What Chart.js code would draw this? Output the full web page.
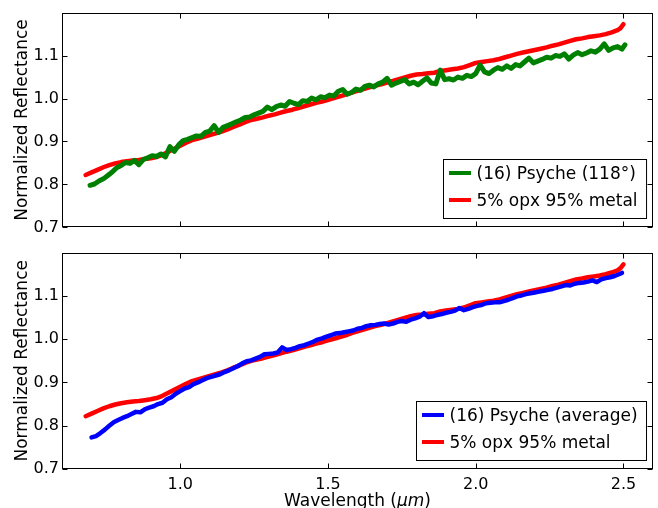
<!DOCTYPE html>
<html>
<head>
<meta charset="utf-8">
<script src="https://cdn.jsdelivr.net/npm/chart.js@4.4.1/dist/chart.umd.min.js"></script>
<style>
  html, body { margin: 0; padding: 0; background: #fff; }
  #wrap { position: relative; width: 658px; height: 508px; overflow: hidden; }
  canvas { position: absolute; left: 0; }
  #c1 { top: 0; }
  #c2 { top: 240px; }
</style>
</head>
<body>
<div id="wrap">
  <canvas id="c1" width="658" height="240"></canvas>
  <canvas id="c2" width="658" height="268"></canvas>
</div>
<script>
// ---------- data ----------
const xTicks = [1.0, 1.5, 2.0, 2.5];
const yTicks = [0.7, 0.8, 0.9, 1.0, 1.1];
const xTitle = ['Wavelength (', 'μm', ')'];
const yTitle = 'Normalized Reflectance';

const psyche118Label = '(16) Psyche (118°)';
const psycheAvgLabel = '(16) Psyche (average)';
const modelLabel = '5% opx 95% metal';

const psyche118Wl = [0.695,0.710,0.725,0.740,0.755,0.770,0.785,0.800,0.815,0.830,0.845,0.860,0.875,0.890,0.905,0.920,0.935,0.950,0.965,0.980,0.995,1.010,1.025,1.040,1.055,1.070,1.085,1.100,1.115,1.130,1.145,1.160,1.175,1.190,1.205,1.220,1.235,1.250,1.265,1.280,1.295,1.310,1.325,1.340,1.355,1.370,1.385,1.400,1.415,1.430,1.445,1.460,1.475,1.490,1.505,1.520,1.535,1.550,1.565,1.580,1.595,1.610,1.625,1.640,1.655,1.670,1.685,1.700,1.715,1.730,1.745,1.760,1.775,1.790,1.805,1.820,1.835,1.850,1.865,1.880,1.895,1.910,1.925,1.940,1.955,1.970,1.985,2.000,2.015,2.030,2.045,2.060,2.075,2.090,2.105,2.120,2.135,2.150,2.165,2.180,2.195,2.210,2.225,2.240,2.255,2.270,2.285,2.300,2.315,2.330,2.345,2.360,2.375,2.390,2.405,2.420,2.435,2.450,2.465,2.480,2.495,2.505];
const psyche118Refl = [0.798,0.801,0.808,0.813,0.821,0.829,0.839,0.844,0.851,0.849,0.856,0.846,0.858,0.862,0.867,0.865,0.871,0.864,0.888,0.877,0.892,0.902,0.905,0.909,0.913,0.912,0.921,0.924,0.937,0.921,0.933,0.937,0.941,0.946,0.950,0.956,0.957,0.962,0.966,0.970,0.980,0.974,0.981,0.985,0.982,0.993,0.989,0.986,0.995,0.993,1.001,0.997,1.004,1.002,1.008,1.006,1.017,1.021,1.010,1.014,1.022,1.019,1.028,1.031,1.027,1.034,1.038,1.047,1.031,1.036,1.040,1.044,1.034,1.038,1.032,1.040,1.048,1.036,1.034,1.066,1.044,1.046,1.043,1.050,1.047,1.054,1.051,1.058,1.078,1.062,1.058,1.066,1.072,1.068,1.076,1.070,1.079,1.076,1.085,1.094,1.083,1.087,1.091,1.096,1.094,1.100,1.098,1.104,1.092,1.101,1.107,1.102,1.106,1.111,1.108,1.115,1.127,1.112,1.118,1.121,1.115,1.125];

const psycheAvgWl = [0.700,0.715,0.730,0.745,0.760,0.775,0.790,0.805,0.820,0.835,0.850,0.865,0.880,0.895,0.910,0.925,0.940,0.955,0.970,0.985,1.000,1.015,1.030,1.045,1.060,1.075,1.090,1.105,1.120,1.135,1.150,1.165,1.180,1.195,1.210,1.225,1.240,1.255,1.270,1.285,1.300,1.315,1.330,1.345,1.360,1.375,1.390,1.405,1.420,1.435,1.450,1.465,1.480,1.495,1.510,1.525,1.540,1.555,1.570,1.585,1.600,1.615,1.630,1.645,1.660,1.675,1.690,1.705,1.720,1.735,1.750,1.765,1.780,1.795,1.810,1.825,1.840,1.855,1.870,1.885,1.900,1.915,1.930,1.945,1.960,1.975,1.990,2.005,2.020,2.035,2.050,2.065,2.080,2.095,2.110,2.125,2.140,2.155,2.170,2.185,2.200,2.215,2.230,2.245,2.260,2.275,2.290,2.305,2.320,2.335,2.350,2.365,2.380,2.395,2.410,2.425,2.440,2.455,2.470,2.485,2.495];
const psycheAvgRefl = [0.773,0.776,0.783,0.791,0.800,0.808,0.813,0.818,0.822,0.827,0.832,0.831,0.838,0.842,0.845,0.850,0.853,0.861,0.866,0.874,0.880,0.886,0.889,0.896,0.900,0.905,0.910,0.913,0.916,0.919,0.924,0.928,0.933,0.938,0.944,0.949,0.951,0.955,0.959,0.965,0.966,0.967,0.969,0.981,0.975,0.977,0.980,0.984,0.986,0.990,0.994,0.999,1.002,1.006,1.009,1.013,1.014,1.016,1.018,1.020,1.024,1.026,1.030,1.032,1.033,1.035,1.036,1.034,1.036,1.040,1.042,1.040,1.045,1.048,1.052,1.060,1.051,1.053,1.056,1.058,1.061,1.063,1.066,1.072,1.067,1.070,1.074,1.077,1.079,1.083,1.084,1.085,1.085,1.088,1.091,1.095,1.099,1.101,1.104,1.106,1.108,1.110,1.112,1.114,1.116,1.119,1.122,1.125,1.124,1.128,1.130,1.131,1.133,1.136,1.132,1.138,1.141,1.143,1.146,1.150,1.153];

const modelWl = [0.680,0.700,0.720,0.740,0.760,0.780,0.800,0.820,0.840,0.860,0.880,0.900,0.920,0.940,0.960,0.980,1.000,1.020,1.040,1.060,1.080,1.100,1.120,1.140,1.160,1.180,1.200,1.220,1.240,1.260,1.280,1.300,1.320,1.340,1.360,1.380,1.400,1.420,1.440,1.460,1.480,1.500,1.520,1.540,1.560,1.580,1.600,1.620,1.640,1.660,1.680,1.700,1.720,1.740,1.760,1.780,1.800,1.820,1.840,1.860,1.880,1.900,1.920,1.940,1.960,1.980,2.000,2.020,2.040,2.060,2.080,2.100,2.120,2.140,2.160,2.180,2.200,2.220,2.240,2.260,2.280,2.300,2.320,2.340,2.360,2.380,2.400,2.420,2.440,2.460,2.480,2.490,2.500];
const modelRefl = [0.822,0.828,0.834,0.840,0.845,0.849,0.852,0.854,0.856,0.857,0.859,0.861,0.864,0.869,0.876,0.883,0.890,0.897,0.903,0.907,0.911,0.915,0.919,0.923,0.928,0.934,0.939,0.945,0.950,0.953,0.956,0.960,0.963,0.967,0.971,0.974,0.978,0.982,0.986,0.990,0.993,0.997,1.001,1.005,1.009,1.014,1.018,1.022,1.026,1.030,1.033,1.037,1.041,1.045,1.049,1.053,1.056,1.057,1.059,1.060,1.064,1.066,1.068,1.070,1.073,1.078,1.083,1.085,1.087,1.089,1.092,1.096,1.100,1.104,1.107,1.110,1.113,1.116,1.119,1.123,1.126,1.130,1.134,1.138,1.140,1.143,1.145,1.147,1.150,1.154,1.159,1.164,1.173];

// ---------- helpers ----------
const FONT = "'DejaVu Sans', sans-serif";
Chart.defaults.font.family = FONT;
Chart.defaults.color = '#000';

function pts(xs, ys) { return xs.map((x, i) => ({ x: x, y: ys[i] })); }

const decorPlugin = {
  id: 'decor',
  afterDraw(chart, args, opts) {
    const ctx = chart.ctx, a = chart.chartArea, xs = chart.scales.x, ys = chart.scales.y;
    ctx.save();
    const L = Math.round(a.left) + 0.5, R = Math.round(a.right) - 0.5;
    const T = Math.round(a.top) + 0.5, B = Math.round(a.bottom) - 0.5;
    ctx.strokeStyle = '#000';
    ctx.lineWidth = 1;
    ctx.strokeRect(L, T, R - L, B - T);
    const tl = 5;
    ctx.beginPath();
    xs.ticks.forEach(t => {
      const p = Math.round(xs.getPixelForValue(t.value)) + 0.5;
      ctx.moveTo(p, B); ctx.lineTo(p, B - tl);
      ctx.moveTo(p, T); ctx.lineTo(p, T + tl);
    });
    ys.ticks.forEach(t => {
      const p = Math.round(ys.getPixelForValue(t.value)) + 0.5;
      ctx.moveTo(L, p); ctx.lineTo(L + tl, p);
      ctx.moveTo(R, p); ctx.lineTo(R - tl, p);
    });
    ctx.stroke();

    // y title
    ctx.fillStyle = '#000';
    ctx.font = '17px ' + FONT;
    ctx.save();
    ctx.translate(27, (a.top + a.bottom) / 2);
    ctx.rotate(-Math.PI / 2);
    ctx.textAlign = 'center';
    ctx.textBaseline = 'alphabetic';
    ctx.fillText(yTitle, 0, 0);
    ctx.restore();

    // x title
    if (opts.xTitle) {
      const fN = '17px ' + FONT, fI = 'italic 17px ' + FONT;
      ctx.font = fN; const w0 = ctx.measureText(xTitle[0]).width, w2 = ctx.measureText(xTitle[2]).width;
      ctx.font = fI; const w1 = ctx.measureText(xTitle[1]).width;
      let x0 = (a.left + a.right) / 2 - (w0 + w1 + w2) / 2;
      const by = opts.xTitleY;
      ctx.textAlign = 'left'; ctx.textBaseline = 'alphabetic';
      ctx.font = fN; ctx.fillText(xTitle[0], x0, by);
      ctx.font = fI; ctx.fillText(xTitle[1], x0 + w0, by);
      ctx.font = fN; ctx.fillText(xTitle[2], x0 + w0 + w1, by);
    }

    // legend
    const items = chart.data.datasets;
    ctx.font = '17px ' + FONT;
    let maxW = 0;
    items.forEach(d => { maxW = Math.max(maxW, ctx.measureText(d.label).width); });
    const padL = 5.5, lineLen = 22, gap = 5.5, padR = 9, rowH = 27, boxH = 59;
    const boxW = padL + lineLen + gap + maxW + padR;
    const bx = Math.round(a.right - 7 - boxW) + 0.5;
    const by = Math.round(a.bottom - 9 - boxH) + 0.5;
    ctx.fillStyle = '#fff';
    ctx.fillRect(bx, by, boxW, boxH);
    ctx.strokeStyle = '#000';
    ctx.lineWidth = 1;
    ctx.strokeRect(bx, by, boxW, boxH);
    items.forEach((d, i) => {
      const cy = by + 13.5 + i * rowH;
      ctx.strokeStyle = d.borderColor;
      ctx.lineWidth = 4;
      ctx.beginPath();
      ctx.moveTo(bx + padL, cy); ctx.lineTo(bx + padL + lineLen, cy);
      ctx.stroke();
      ctx.fillStyle = '#000';
      ctx.textAlign = 'left';
      ctx.textBaseline = 'alphabetic';
      ctx.fillText(d.label, bx + padL + lineLen + gap, cy + 6);
    });
    ctx.restore();
  }
};

function makeChart(id, datasets, showX, padTop, xAxisH, xTitleY) {
  return new Chart(document.getElementById(id), {
    type: 'scatter',
    data: { datasets: datasets },
    options: {
      responsive: false,
      animation: false,
      layout: { padding: { top: padTop, right: 5, left: 0, bottom: 0 } },
      plugins: {
        legend: { display: false },
        tooltip: { enabled: false },
        decor: { xTitle: showX, xTitleY: xTitleY }
      },
      elements: { point: { radius: 0 }, line: { tension: 0, borderCapStyle: 'round', borderJoinStyle: 'round' } },
      scales: {
        x: {
          type: 'linear', min: 0.6, max: 2.6,
          grid: { display: false, drawTicks: false },
          border: { display: false },
          afterBuildTicks: s => { s.ticks = xTicks.map(v => ({ value: v })); },
          afterFit: s => { s.height = xAxisH; },
          ticks: {
            display: showX, padding: 6,
            font: { size: 16, family: FONT }, color: '#000',
            maxRotation: 0,
            callback: v => Number(v).toFixed(1)
          }
        },
        y: {
          type: 'linear', min: 0.7, max: 1.2,
          grid: { display: false, drawTicks: false },
          border: { display: false },
          afterBuildTicks: s => { s.ticks = yTicks.map(v => ({ value: v })); },
          afterFit: s => { s.width = 62; },
          ticks: {
            padding: 3,
            font: { size: 16, family: FONT }, color: '#000',
            callback: v => Number(v).toFixed(1)
          }
        }
      }
    },
    plugins: [decorPlugin]
  });
}

makeChart('c1', [
  { label: psyche118Label, data: pts(psyche118Wl, psyche118Refl), showLine: true, borderColor: '#008000', backgroundColor: '#008000', borderWidth: 5 },
  { label: modelLabel, data: pts(modelWl, modelRefl), showLine: true, borderColor: '#ff0000', backgroundColor: '#ff0000', borderWidth: 4.5 }
], false, 10, 10, 0);

makeChart('c2', [
  { label: psycheAvgLabel, data: pts(psycheAvgWl, psycheAvgRefl), showLine: true, borderColor: '#0000ff', backgroundColor: '#0000ff', borderWidth: 4.5 },
  { label: modelLabel, data: pts(modelWl, modelRefl), showLine: true, borderColor: '#ff0000', backgroundColor: '#ff0000', borderWidth: 4.5 }
], true, 9, 39, 265.5);
</script>
</body>
</html>
